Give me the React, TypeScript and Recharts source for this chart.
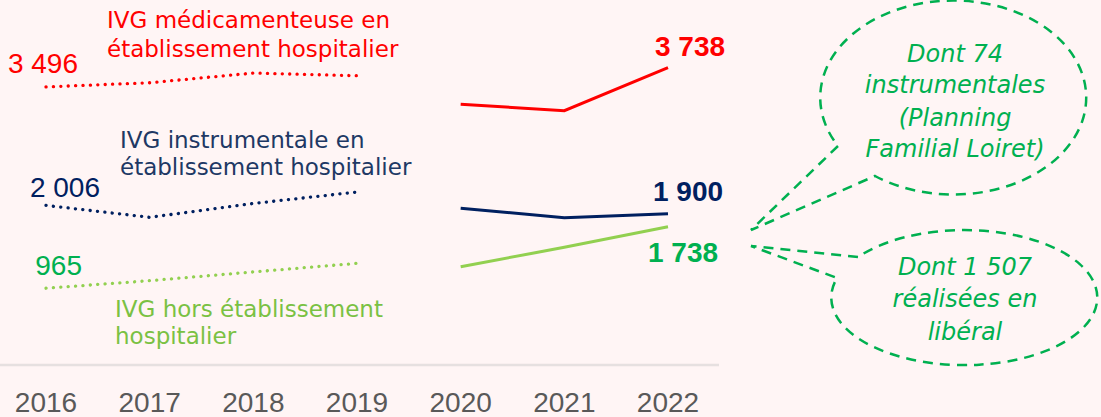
import { Customized, Line, LineChart, XAxis, YAxis } from "recharts";

const years = ["2016", "2017", "2018", "2019", "2020", "2021", "2022"];
const medicamenteuse = [3496, 3548, 3670, 3636, 3277, 3196, 3738];
const instrumentale = [2006, 1856, 2030, 2174, 1970, 1851, 1900];
const horsEtablissement = [965, 1060, 1170, 1278, 1236, 1479, 1738];
// 2016-2019 drawn dotted, 2020-2022 solid
const firstSolidIndex = 4;

const series = [
  {
    key: "med",
    values: medicamenteuse,
    stroke: "#ff0000",
    numColor: "#ff0000",
    start: { dx: 32, dy: -13.5 },
    end: { dx: 22, dy: -12 },
  },
  {
    key: "instru",
    values: instrumentale,
    stroke: "#002060",
    numColor: "#002060",
    start: { dx: 54, dy: -8 },
    end: { dx: 20, dy: -13 },
  },
  {
    key: "hors",
    values: horsEtablissement,
    stroke: "#92d050",
    numColor: "#00b050",
    start: { dx: 36, dy: -13 },
    end: { dx: 15, dy: 35 },
  },
];

const data = years.map((year, i) => {
  const row: Record<string, string | number | null> = { year };
  series.forEach((s) => {
    row[s.key + "Pre"] = i < firstSolidIndex ? s.values[i] : null;
    row[s.key + "Post"] = i >= firstSolidIndex ? s.values[i] : null;
  });
  return row;
});

const fmt = (v: number) => String(v).replace(/\B(?=(\d{3})+(?!\d))/g, " ");

const numFont = "'Liberation Sans', Arial, sans-serif";
const textFont = "'DejaVu Sans', sans-serif";

function startLabel(s: (typeof series)[number]) {
  return (p: any) => {
    if (p.index !== 0 || p.value == null) return <g />;
    return (
      <text
        x={p.x + s.start.dx}
        y={p.y + s.start.dy}
        textAnchor="end"
        fill={s.numColor}
        fontFamily={numFont}
        fontSize={28}
      >
        {fmt(p.value)}
      </text>
    );
  };
}

function endLabel(s: (typeof series)[number]) {
  return (p: any) => {
    if (p.index !== years.length - 1 || p.value == null) return <g />;
    return (
      <text
        x={p.x + s.end.dx}
        y={p.y + s.end.dy}
        textAnchor="middle"
        fill={s.numColor}
        fontFamily={numFont}
        fontSize={28}
        fontWeight="bold"
      >
        {fmt(p.value)}
      </text>
    );
  };
}

function Annotations() {
  const name = { fontFamily: textFont, fontSize: 23 };
  const bubble = { fontFamily: textFont, fontSize: 24, fontStyle: "italic", fill: "#00b050", textAnchor: "middle" as const };
  return (
    <g>
      <text x={107} fill="#ff0000" {...name}>
        <tspan x={107} y={28}>IVG médicamenteuse en</tspan>
        <tspan x={107} y={57}>établissement hospitalier</tspan>
      </text>
      <text x={120} fill="#203864" {...name}>
        <tspan x={120} y={148}>IVG instrumentale en</tspan>
        <tspan x={120} y={175}>établissement hospitalier</tspan>
      </text>
      <text x={115} fill="#7ac143" {...name}>
        <tspan x={115} y={317}>IVG hors établissement</tspan>
        <tspan x={115} y={344}>hospitalier</tspan>
      </text>

      <path
        d="M 838 146 L 751 230 L 875 176 A 133 97 0 1 0 838 146"
        fill="none"
        stroke="#00b050"
        strokeWidth={2.5}
        strokeDasharray="10 7"
      />
      <path
        d="M 858 257 L 751 246 L 837 278 A 133 67.5 0 1 0 858 257"
        fill="none"
        stroke="#00b050"
        strokeWidth={2.5}
        strokeDasharray="10 7"
      />
      <text {...bubble}>
        <tspan x={955} y={62}>Dont 74</tspan>
        <tspan x={955} y={93}>instrumentales</tspan>
        <tspan x={955} y={126}>(Planning</tspan>
        <tspan x={955} y={157}>Familial Loiret)</tspan>
      </text>
      <text {...bubble}>
        <tspan x={965} y={275}>Dont 1 507</tspan>
        <tspan x={965} y={307}>réalisées en</tspan>
        <tspan x={965} y={340}>libéral</tspan>
      </text>
    </g>
  );
}

export default function App() {
  return (
    <div style={{ position: "absolute", left: 0, top: 0, width: 1101, height: 417, background: "#fff5f5" }}>
      <LineChart width={1101} height={417} data={data} margin={{ top: 7, right: 382, bottom: 0, left: 0 }}>
        <XAxis
          dataKey="year"
          height={52}
          padding={{ left: 46, right: 51 }}
          axisLine={{ stroke: "#e6e0e0", strokeWidth: 2.5 }}
          tickLine={false}
          tickSize={0}
          tickMargin={27}
          tick={{ fill: "#595959", fontSize: 28, fontFamily: numFont }}
          interval={0}
        />
        <YAxis hide domain={[0, 4500]} />
        {series.map((s) => (
          <Line
            key={s.key + "Pre"}
            dataKey={s.key + "Pre"}
            stroke={s.stroke}
            strokeWidth={3.3}
            strokeDasharray="0.1 7.3"
            strokeLinecap="round"
            dot={false}
            activeDot={false}
            label={startLabel(s)}
            isAnimationActive={false}
          />
        ))}
        {series.map((s) => (
          <Line
            key={s.key + "Post"}
            dataKey={s.key + "Post"}
            stroke={s.stroke}
            strokeWidth={3}
            dot={false}
            activeDot={false}
            label={endLabel(s)}
            isAnimationActive={false}
          />
        ))}
        <Customized component={<Annotations />} />
      </LineChart>
    </div>
  );
}
